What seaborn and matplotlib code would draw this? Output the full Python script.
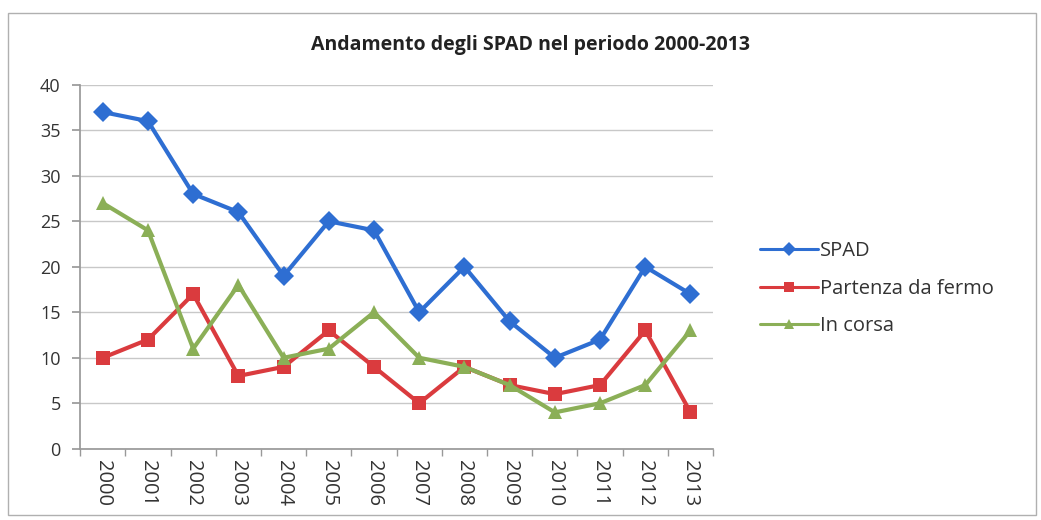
import matplotlib
matplotlib.use('Agg')
import matplotlib.pyplot as plt
import numpy as np
import pandas as pd
import seaborn as sns

years = [2000, 2001, 2002, 2003, 2004, 2005, 2006, 2007, 2008, 2009, 2010, 2011, 2012, 2013]
spad = [37, 36, 28, 26, 19, 25, 24, 15, 20, 14, 10, 12, 20, 17]
partenza = [10, 12, 17, 8, 9, 13, 9, 5, 9, 7, 6, 7, 13, 4]
in_corsa = [27, 24, 11, 18, 10, 11, 15, 10, 9, 7, 4, 5, 7, 13]
series_names = ['SPAD', 'Partenza da fermo', 'In corsa']

sns.set_theme(style='white')
plt.rcParams['font.family'] = ['Open Sans', 'DejaVu Sans']

df = pd.DataFrame({'pos': list(range(len(years))) * 3,
                   'value': spad + partenza + in_corsa,
                   'serie': np.repeat(series_names, len(years))})

palette = {'SPAD': '#2E6ED2', 'Partenza da fermo': '#DA3B3E', 'In corsa': '#8BAF57'}
markers = {'SPAD': 'D', 'Partenza da fermo': 's', 'In corsa': '^'}

fig = plt.figure(figsize=(10.41, 5.2), dpi=100)
ax = fig.add_axes([0.077, 0.137, 0.608, 0.700])
sns.lineplot(data=df, x='pos', y='value', hue='serie', style='serie', palette=palette,
             markers=markers, dashes=False, linewidth=3, markersize=10,
             markeredgewidth=0, ax=ax)

n = len(years)
ax.set_xlim(-0.5, n - 0.5)
ax.set_ylim(0, 40)
ax.set_yticks(range(0, 41, 5))
ax.set_xticks(range(n))
ax.set_xticklabels([str(y) for y in years], rotation=270, fontsize=14.5, color='#333333')
# tick marks sit between the categories, like the spreadsheet chart
ax.set_xticks(np.arange(-0.5, n, 1.0), minor=True)
ax.tick_params(axis='x', which='major', length=0, pad=8)
ax.tick_params(axis='x', which='minor', length=5, direction='out', bottom=True, color='#999999')
ax.tick_params(axis='y', labelsize=13, labelcolor='#333333', length=6, direction='out',
               left=True, color='#999999', pad=8)
ax.yaxis.grid(True, color='#c8c8c8', linewidth=1)
ax.set_axisbelow(True)
for side in ['top', 'right']:
    ax.spines[side].set_visible(False)
ax.spines['left'].set_color('#999999')
ax.spines['bottom'].set_color('#999999')
ax.set_xlabel('')
ax.set_ylabel('')

handles, labels = ax.get_legend_handles_labels()
leg = ax.legend(handles, labels, loc='center left', bbox_to_anchor=(1.045, 0.44), frameon=False,
                fontsize=14.5, handlelength=2.9, labelspacing=0.85, handletextpad=0.1,
                markerscale=0.75)
for txt in leg.get_texts():
    txt.set_color('#333333')
for line in leg.get_lines():
    line.set_linewidth(2.2)

fig.text(0.51, 0.913, 'Andamento degli SPAD nel periodo 2000-2013', ha='center', va='center',
         fontsize=14, fontweight='bold', color='#222222')

fig.patches.append(plt.Rectangle((0.008, 0.01), 0.987, 0.965, transform=fig.transFigure,
                                 fill=False, edgecolor='#b0b0b0', linewidth=1))

fig.savefig('out.png', dpi=100)
